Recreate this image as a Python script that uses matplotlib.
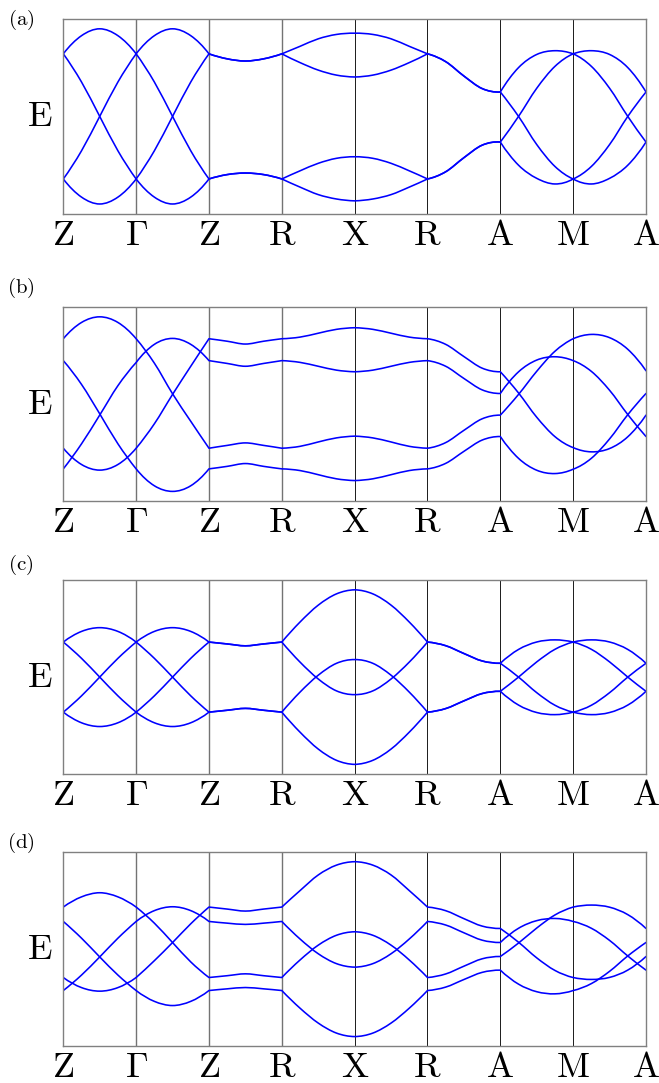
"""
plot.py — band structures of the four-band model along Z-G-Z-R-X-R-A-M-A.

Energies are tabulated at quarter steps of every path segment (33 samples per
band); each band is drawn as a smooth cubic path through its samples, one
segment at a time so the kinks at the high-symmetry points are kept.

Usage:
    python plot.py
"""
from __future__ import annotations

import numpy as np
import matplotlib
matplotlib.use("Agg")
import matplotlib.pyplot as plt
from matplotlib.path import Path
from matplotlib.patches import PathPatch

OUT_PNG = "out.png"

KPATH = [r"$\mathrm{Z}$", r"$\Gamma$", r"$\mathrm{Z}$", r"$\mathrm{R}$", r"$\mathrm{X}$",
         r"$\mathrm{R}$", r"$\mathrm{A}$", r"$\mathrm{M}$", r"$\mathrm{A}$"]
STEPS = 4  # samples per segment (quarter steps)

# panel (a)
BANDS_A1 = [1.0, 1.29, 1.40, 1.29, 1.0, 0.55, 0.0, -0.55, -1.0, -0.93, -0.905, -0.93, -1.0,
            -1.13, -1.25, -1.32, -1.35, -1.32, -1.25, -1.13, -1.0, -0.885, -0.66, -0.46, -0.41,
            -0.78, -0.99, -1.08, -1.0, -0.80, -0.45, 0.0, 0.39]
BANDS_A2 = [1.0, 0.55, 0.0, -0.55, -1.0, -1.29, -1.40, -1.29, -1.0, -0.93, -0.905, -0.93, -1.0,
            -0.87, -0.75, -0.67, -0.645, -0.67, -0.75, -0.87, -1.0, -0.885, -0.66, -0.46, -0.41,
            0.0, 0.45, 0.80, 1.0, 1.05, 0.99, 0.78, 0.39]
BANDS_A3 = [-1.0, -0.55, 0.0, 0.55, 1.0, 1.29, 1.40, 1.29, 1.0, 0.92, 0.885, 0.92, 1.0,
            0.86, 0.74, 0.66, 0.63, 0.66, 0.74, 0.86, 1.0, 0.875, 0.645, 0.445, 0.39,
            0.0, -0.45, -0.80, -1.0, -1.08, -0.99, -0.78, -0.41]
BANDS_A4 = [-1.0, -1.29, -1.40, -1.29, -1.0, -0.55, 0.0, 0.55, 1.0, 0.92, 0.885, 0.92, 1.0,
            1.12, 1.24, 1.31, 1.33, 1.31, 1.24, 1.12, 1.0, 0.875, 0.645, 0.445, 0.39,
            0.78, 0.99, 1.05, 1.0, 0.80, 0.45, 0.0, -0.41]

# panel (b)
BANDS_B1 = [1.04, 1.30, 1.39, 1.30, 1.04, 0.65, 0.16, -0.28, -0.71, -0.665, -0.625, -0.665, -0.71,
            -0.68, -0.61, -0.545, -0.517, -0.545, -0.61, -0.68, -0.71, -0.62, -0.424, -0.24, -0.181,
            0.15, 0.52, 0.84, 1.04, 1.109, 1.057, 0.871, 0.528]
BANDS_B2 = [-0.71, -0.97, -1.06, -0.97, -0.71, -0.32, 0.15, 0.60, 1.04, 1.0, 0.955, 1.0, 1.04,
            1.066, 1.128, 1.19, 1.216, 1.19, 1.128, 1.066, 1.04, 0.95, 0.755, 0.57, 0.512,
            0.173, -0.215, -0.525, -0.70, -0.768, -0.715, -0.527, -0.181]
BANDS_B3 = [-1.04, -0.64, -0.18, 0.29, 0.66, 0.95, 1.045, 0.95, 0.69, 0.645, 0.60, 0.645, 0.69,
            0.662, 0.60, 0.538, 0.512, 0.538, 0.60, 0.662, 0.69, 0.60, 0.405, 0.223, 0.165,
            0.511, 0.699, 0.752, 0.69, 0.518, 0.216, -0.172, -0.523]
BANDS_B4 = [0.69, 0.31, -0.16, -0.64, -1.04, -1.31, -1.40, -1.31, -1.04, -1.0, -0.955, -1.0, -1.04,
            -1.067, -1.133, -1.199, -1.227, -1.199, -1.133, -1.067, -1.04, -0.952, -0.76, -0.58, -0.523,
            -0.872, -1.062, -1.115, -1.045, -0.871, -0.561, -0.174, 0.165]

# panel (c)
BANDS_C1 = [0.56, 0.73, 0.79, 0.73, 0.56, 0.30, 0.0, -0.30, -0.56, -0.53, -0.50, -0.53, -0.56,
            -0.88, -1.15, -1.33, -1.395, -1.33, -1.15, -0.88, -0.56, -0.503, -0.38, -0.263, -0.227,
            -0.447, -0.566, -0.6, -0.56, -0.45, -0.249, 0.0, 0.221]
BANDS_C2 = [-0.56, -0.73, -0.79, -0.73, -0.56, -0.30, 0.0, 0.30, 0.56, 0.53, 0.50, 0.53, 0.56,
            0.88, 1.15, 1.33, 1.395, 1.33, 1.15, 0.88, 0.56, 0.502, 0.377, 0.258, 0.221,
            0.442, 0.561, 0.595, 0.56, 0.444, 0.243, 0.0, -0.227]
BANDS_C3 = [-0.56, -0.30, 0.0, 0.30, 0.56, 0.73, 0.79, 0.73, 0.56, 0.53, 0.50, 0.53, 0.56,
            0.24, -0.03, -0.22, -0.28, -0.22, -0.03, 0.24, 0.56, 0.502, 0.377, 0.258, 0.221,
            0.0, -0.249, -0.45, -0.56, -0.6, -0.566, -0.447, -0.227]
BANDS_C4 = [0.56, 0.30, 0.0, -0.30, -0.56, -0.73, -0.79, -0.73, -0.56, -0.53, -0.50, -0.53, -0.56,
            -0.24, 0.03, 0.22, 0.28, 0.22, 0.03, -0.24, -0.56, -0.503, -0.38, -0.263, -0.227,
            0.0, 0.243, 0.444, 0.56, 0.595, 0.561, 0.442, 0.221]

# panel (d)
BANDS_D1 = [0.667, 0.83, 0.896, 0.83, 0.667, 0.41, 0.10, -0.21, -0.459, -0.43, -0.40, -0.43, -0.459,
            -0.179, 0.058, 0.216, 0.272, 0.216, 0.058, -0.179, -0.459, -0.402, -0.278, -0.16, -0.123,
            0.092, 0.332, 0.541, 0.667, 0.699, 0.665, 0.546, 0.325]
BANDS_D2 = [-0.459, -0.62, -0.677, -0.62, -0.459, -0.19, 0.10, 0.40, 0.667, 0.635, 0.603, 0.635, 0.667,
            0.93, 1.18, 1.337, 1.392, 1.337, 1.18, 0.93, 0.667, 0.609, 0.482, 0.363, 0.325,
            0.105, -0.145, -0.346, -0.459, -0.49, -0.457, -0.34, -0.123]
BANDS_D3 = [-0.667, -0.42, -0.13, 0.17, 0.437, 0.61, 0.672, 0.61, 0.437, 0.41, 0.39, 0.41, 0.437,
            0.157, -0.079, -0.237, -0.293, -0.237, -0.079, 0.157, 0.437, 0.38, 0.256, 0.138, 0.101,
            0.328, 0.45, 0.485, 0.437, 0.328, 0.134, -0.115, -0.341]
BANDS_D4 = [0.437, 0.17, -0.13, -0.42, -0.667, -0.84, -0.907, -0.84, -0.667, -0.64, -0.619, -0.64, -0.667,
            -0.949, -1.187, -1.347, -1.403, -1.347, -1.187, -0.949, -0.667, -0.612, -0.491, -0.377, -0.341,
            -0.565, -0.686, -0.72, -0.667, -0.556, -0.36, -0.114, 0.101]

PANELS = [
    ("(a)", [BANDS_A1, BANDS_A2, BANDS_A3, BANDS_A4]),
    ("(b)", [BANDS_B1, BANDS_B2, BANDS_B3, BANDS_B4]),
    ("(c)", [BANDS_C1, BANDS_C2, BANDS_C3, BANDS_C4]),
    ("(d)", [BANDS_D1, BANDS_D2, BANDS_D3, BANDS_D4]),
]
E_LIM = 1.552

# layout in pixels (figure is 659 x 1083 at dpi 100)
FIG_W, FIG_H = 659, 1083
AX_LEFT, AX_RIGHT = 63.3, 646.0
AX_TOPS = [19.3, 306.7, 580.0, 851.7]
AX_HEIGHT = 194.2
LABEL_Y = [20, 288, 565, 843]


def _band_path(xs: np.ndarray, ys: np.ndarray) -> Path:
    """Cubic Hermite path through the samples, restarted at each segment end."""
    verts, codes = [], []
    for s in range(len(KPATH) - 1):
        x = xs[s * STEPS:(s + 1) * STEPS + 1]
        y = ys[s * STEPS:(s + 1) * STEPS + 1]
        h = x[1] - x[0]
        m = np.empty_like(y)
        m[1:-1] = (y[2:] - y[:-2]) / (2 * h)
        m[0] = (-3 * y[0] + 4 * y[1] - y[2]) / (2 * h)
        m[-1] = (3 * y[-1] - 4 * y[-2] + y[-3]) / (2 * h)
        if s == 0:
            verts.append((x[0], y[0]))
            codes.append(Path.MOVETO)
        for i in range(len(x) - 1):
            verts += [(x[i] + h / 3, y[i] + m[i] * h / 3),
                      (x[i + 1] - h / 3, y[i + 1] - m[i + 1] * h / 3),
                      (x[i + 1], y[i + 1])]
            codes += [Path.CURVE4] * 3
    return Path(verts, codes)


def _draw_panel(fig, top_px: float, tag: str, label_y: float, bands) -> None:
    left = AX_LEFT / FIG_W
    width = (AX_RIGHT - AX_LEFT) / FIG_W
    bottom = 1 - (top_px + AX_HEIGHT) / FIG_H
    ax = fig.add_axes([left, bottom, width, AX_HEIGHT / FIG_H])

    nseg = len(KPATH) - 1
    xs = np.linspace(0, nseg, nseg * STEPS + 1)
    for band in bands:
        patch = PathPatch(_band_path(xs, np.asarray(band, float)), fill=False,
                          edgecolor="#0000ff", lw=1.15, capstyle="round", joinstyle="round")
        ax.add_patch(patch)

    # high-symmetry lines: left half rendered a touch greyer/heavier
    for k in range(1, nseg):
        if k <= 3:
            ax.axvline(k, color="0.45", lw=1.0, zorder=0)
        else:
            ax.axvline(k, color="0.1", lw=0.7, zorder=0)

    ax.set_xlim(0, nseg)
    ax.set_ylim(-E_LIM, E_LIM)
    ax.set_xticks(range(nseg + 1))
    ax.set_xticklabels(KPATH, fontsize=26)
    ax.set_yticks([])
    ax.tick_params(axis="x", length=0, pad=3)
    for sp in ax.spines.values():
        sp.set_color("0.5")
        sp.set_linewidth(1.0)

    ax.text(-0.040, 0.5, r"$\mathrm{E}$", transform=ax.transAxes,
            ha="center", va="center", fontsize=26)
    fig.text(21 / FIG_W, 1 - label_y / FIG_H, r"$\mathrm{" + tag + "}$",
             ha="center", va="center", fontsize=15)


def main() -> None:
    plt.rcParams["mathtext.fontset"] = "cm"
    fig = plt.figure(figsize=(FIG_W / 100, FIG_H / 100), dpi=100)
    for (tag, bands), top, ly in zip(PANELS, AX_TOPS, LABEL_Y):
        _draw_panel(fig, top, tag, ly, bands)
    fig.savefig(OUT_PNG, dpi=100)
    print(f"Wrote {OUT_PNG}")


if __name__ == "__main__":
    main()
